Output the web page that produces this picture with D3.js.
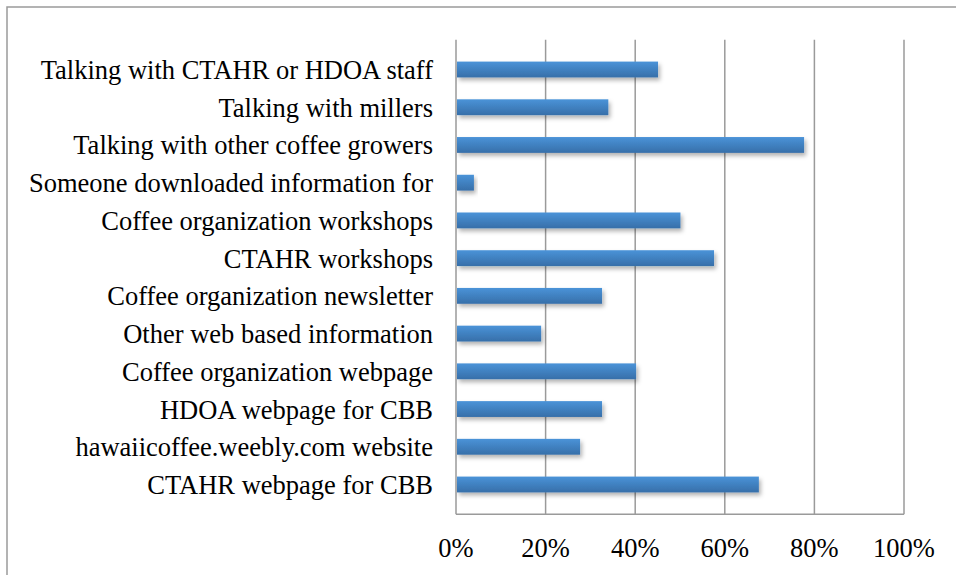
<!DOCTYPE html>
<html>
<head>
<meta charset="utf-8">
<script src="https://cdn.jsdelivr.net/npm/d3@7"></script>
</head>
<body style="margin:0">
<div id="chart"></div>
<script>
// categories top to bottom, as in the picture
var categories = [
  "Talking with CTAHR or HDOA staff",
  "Talking with millers",
  "Talking with other coffee growers",
  "Someone downloaded information for",
  "Coffee organization workshops",
  "CTAHR workshops",
  "Coffee organization newsletter ",
  "Other web based information",
  "Coffee organization webpage",
  "HDOA webpage for CBB",
  "hawaiicoffee.weebly.com website",
  "CTAHR webpage for CBB"
];
var shares = [0.451, 0.34, 0.777, 0.04, 0.501, 0.576, 0.326, 0.19, 0.402, 0.326, 0.277, 0.676];
var xTicks = [0, 0.2, 0.4, 0.6, 0.8, 1.0];

var svgWidth = 956;
var svgHeight = 575;
var margin = { top: 39.7, right: 52, bottom: 60.7, left: 456 };
var width = svgWidth - margin.left - margin.right;
var height = svgHeight - margin.top - margin.bottom;

var svg = d3.select("#chart")
  .append("svg")
  .attr("width", svgWidth)
  .attr("height", svgHeight);

var defs = svg.append("defs");
var grad = defs.append("linearGradient")
  .attr("id", "barGrad")
  .attr("x1", 0).attr("y1", 0).attr("x2", 0).attr("y2", 1);
grad.append("stop").attr("offset", "0%").attr("stop-color", "#4a93d8");
grad.append("stop").attr("offset", "100%").attr("stop-color", "#376fa9");

var shadow = defs.append("filter")
  .attr("id", "shadow")
  .attr("x", "-10%").attr("y", "-30%")
  .attr("width", "130%").attr("height", "200%");
shadow.append("feDropShadow")
  .attr("dx", 2).attr("dy", 3)
  .attr("stdDeviation", 2)
  .attr("flood-color", "#000")
  .attr("flood-opacity", 0.3);

// outer chart frame (runs off the right and bottom)
svg.append("rect")
  .attr("x", 7).attr("y", 7)
  .attr("width", 1000).attr("height", 1000)
  .attr("fill", "none")
  .attr("stroke", "#9a9a9a")
  .attr("stroke-width", 1.5);

var chartGroup = svg.append("g")
  .attr("transform", `translate(${margin.left}, ${margin.top})`);

var xScale = d3.scaleLinear()
  .domain([0, 1])
  .range([0, width]);

var yScale = d3.scaleBand()
  .domain(categories)
  .range([0, height])
  .padding(0.58);

// vertical gridlines
chartGroup.selectAll(".grid")
  .data(xTicks)
  .enter()
  .append("line")
  .attr("class", "grid")
  .attr("x1", d => xScale(d))
  .attr("x2", d => xScale(d))
  .attr("y1", 0)
  .attr("y2", height)
  .attr("stroke", "#9a9a9a")
  .attr("stroke-width", 1.5);

// bottom axis line
chartGroup.append("line")
  .attr("x1", 0).attr("x2", width)
  .attr("y1", height).attr("y2", height)
  .attr("stroke", "#9a9a9a")
  .attr("stroke-width", 1.5);

var pct = d3.format(".0%");

// x tick labels
chartGroup.selectAll(".xlabel")
  .data(xTicks)
  .enter()
  .append("text")
  .attr("class", "xlabel")
  .attr("x", d => xScale(d))
  .attr("y", height + 43)
  .attr("text-anchor", "middle")
  .attr("font-family", "Liberation Serif")
  .attr("font-size", 26.5)
  .text(d => pct(d));

// category labels
chartGroup.selectAll(".ylabel")
  .data(categories)
  .enter()
  .append("text")
  .attr("class", "ylabel")
  .attr("x", -23)
  .attr("y", d => yScale(d) + yScale.bandwidth() / 2 + 9.5)
  .attr("text-anchor", "end")
  .attr("font-family", "Liberation Serif")
  .attr("font-size", 26.5)
  .text(d => d);

// bars
chartGroup.selectAll(".bar")
  .data(shares)
  .enter()
  .append("rect")
  .attr("class", "bar")
  .attr("x", 1)
  .attr("y", (d, i) => yScale(categories[i]))
  .attr("width", d => xScale(d) - 1)
  .attr("height", yScale.bandwidth())
  .attr("fill", "url(#barGrad)")
  .attr("filter", "url(#shadow)");
</script>
</body>
</html>
